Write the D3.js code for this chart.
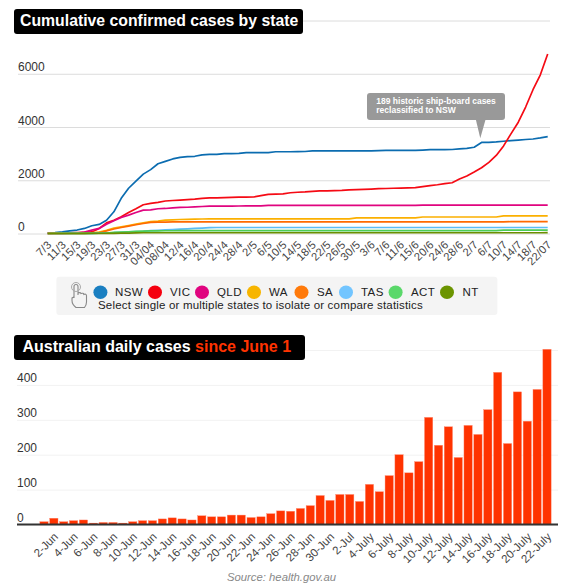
<!DOCTYPE html>
<html>
<head>
<meta charset="utf-8">
<script src="https://cdn.jsdelivr.net/npm/d3@7/dist/d3.min.js"></script>
<style>
html,body{margin:0;padding:0;background:#fff;overflow:hidden}
svg{display:block;font-family:"Liberation Sans",Arial,sans-serif}
</style>
</head>
<body>
<svg id="chart" width="568" height="588"></svg>
<script>
// ---- cumulative chart data (tick label every second point)
const cumTickLabels = ["7/3","11/3","15/3","19/3","23/3","27/3","31/3","04/04","08/04","12/4","16/4","20/4","24/4","28/4","2/5","6/5","10/5","14/5","18/5","22/5","26/5","30/5","3/6","7/6","11/6","15/6","20/6","24/6","28/6","2/7","6/7","10/7","14/7","18/7","22/07"];
const stateNames = ["NSW","VIC","QLD","WA","SA","TAS","ACT","NT"];
const legendColors = ["#1a7fc1","#f5000f","#e0047f","#f7b500","#ff7a0a","#72c5ff","#5ad86a","#6b9400"];
const lineColors = ["#0b6cb0","#f50a14","#e0047f","#fbb000","#ff6a00","#5bbcf5","#4ccc55","#6b8e00"];
const nsw = [20,30,60,100,130,190,290,340,500,815,1320,1700,1970,2230,2400,2620,2710,2800,2860,2885,2900,2950,2975,2975,3000,3000,3010,3035,3035,3035,3040,3070,3070,3070,3075,3080,3100,3100,3100,3100,3100,3100,3100,3100,3100,3110,3125,3125,3125,3125,3125,3135,3150,3150,3150,3155,3175,3195,3240,3420,3425,3440,3465,3490,3510,3530,3550,3590,3640];
const vic = [5,10,15,20,30,45,60,190,400,500,630,790,930,1080,1130,1170,1220,1240,1255,1270,1290,1320,1340,1340,1345,1355,1365,1365,1370,1420,1470,1480,1490,1530,1550,1560,1580,1600,1600,1610,1620,1640,1650,1660,1670,1685,1690,1700,1705,1710,1720,1760,1800,1830,1870,1905,2045,2160,2310,2470,2670,2930,3290,3740,4180,4750,5400,5960,6740];
const qld = [3,5,8,12,15,50,125,190,350,480,600,690,790,880,890,930,940,960,980,985,1000,1015,1030,1030,1030,1030,1032,1035,1035,1035,1055,1055,1055,1055,1055,1055,1055,1055,1055,1055,1055,1055,1055,1055,1055,1055,1055,1055,1055,1055,1055,1067,1067,1067,1067,1067,1067,1067,1067,1067,1067,1067,1067,1067,1067,1067,1067,1067,1067];
const wa = [1,2,3,5,6,8,20,50,120,200,250,300,350,400,450,465,500,510,525,530,540,545,550,550,550,550,550,550,550,550,550,550,550,550,550,550,550,550,550,550,550,550,590,590,590,590,590,590,590,590,590,620,620,620,620,620,620,620,620,620,620,620,660,660,660,660,660,660,660];
const sa = [1,1,2,3,4,6,15,30,100,170,225,280,330,375,415,425,430,435,440,440,440,440,440,440,440,440,440,440,440,440,440,440,440,440,440,440,440,440,440,440,440,440,440,440,440,440,440,440,440,440,440,440,440,440,440,440,440,440,440,440,440,440,440,443,443,443,443,443,443];
const tas = [0,0,1,2,3,4,7,12,22,30,45,60,70,85,110,120,135,150,165,175,190,205,220,225,225,225,225,225,225,225,225,225,225,225,225,225,225,225,225,225,225,225,225,225,225,225,225,225,225,225,225,225,225,225,225,225,225,225,225,225,225,225,225,225,225,225,225,225,225];
const act = [0,1,1,2,2,3,6,9,19,39,53,65,80,87,96,100,103,104,107,107,107,107,107,107,107,107,107,107,107,107,107,107,107,107,107,107,107,107,107,107,107,107,107,107,107,107,107,107,107,107,107,107,107,107,107,107,107,107,107,107,107,107,125,125,125,125,125,125,125];
const nt = [0,0,0,0,0,1,1,3,5,8,12,15,25,29,29,29,29,29,29,29,29,29,29,29,29,29,29,29,29,29,29,29,29,29,29,29,29,29,29,29,29,29,29,29,29,29,29,29,29,29,29,29,29,29,29,29,29,29,29,29,29,29,29,29,29,29,29,29,30];
const cumTicks = [0,2000,4000,6000,8000];
const cumLabelled = [0,2000,4000,6000];
const calloutLines = ["189 historic ship-board cases","reclassified to NSW"];

// ---- daily chart data
const dayLabels = ["1-Jun","2-Jun","3-Jun","4-Jun","5-Jun","6-Jun","7-Jun","8-Jun","9-Jun","10-Jun","11-Jun","12-Jun","13-Jun","14-Jun","15-Jun","16-Jun","17-Jun","18-Jun","19-Jun","20-Jun","21-Jun","22-Jun","23-Jun","24-Jun","25-Jun","26-Jun","27-Jun","28-Jun","29-Jun","30-Jun","1-Jul","2-Jul","3-July","4-July","5-July","6-July","7-July","8-July","9-July","10-July","11-July","12-July","13-July","14-July","15-July","16-July","17-July","18-July","19-July","20-July","21-July","22-July"];
const dailyCases = [8,18,8,11,13,4,6,6,4,8,11,11,16,19,16,13,25,22,22,27,27,20,22,31,39,38,46,54,83,69,86,86,66,115,94,140,200,148,180,307,227,280,192,284,258,329,436,232,380,296,387,502];
const dailyTicks = [0,100,200,300,400,500];
const dailyLabelled = [0,100,200,300,400];

const svg = d3.select("#chart");
const textColor = "#333";

// ---- chart 1 scales
const x1 = d3.scaleLinear().domain([0, nsw.length - 1]).range([47.7, 547.7]);
const y1 = d3.scaleLinear().domain([0, 8000]).range([233.5, 20.5]);

const g1 = svg.append("g");
const yAxis1 = d3.axisLeft(y1).tickValues(cumTicks).tickSize(-532)
  .tickFormat(d => cumLabelled.includes(d) ? d3.format("d")(d) : "");
const gy1 = g1.append("g").attr("transform", "translate(18,0)").call(yAxis1);
gy1.select(".domain").remove();
gy1.selectAll("line").attr("stroke", "#dcdcdc");
gy1.selectAll("text").attr("x", 0).attr("dy", -3).attr("text-anchor", "start")
  .attr("fill", textColor).style("font-size", "12px");

const xAxis1 = d3.axisBottom(x1)
  .tickValues(cumTickLabels.map((d, i) => i * 2))
  .tickSize(0)
  .tickFormat(d => cumTickLabels[d / 2]);
const gx1 = g1.append("g").attr("transform", "translate(0,233.5)").call(xAxis1);
gx1.select(".domain").remove();
gx1.selectAll("text")
  .attr("text-anchor", "end").attr("y", 0).attr("dy", 0)
  .attr("transform", "translate(4,12) rotate(-45)")
  .attr("fill", "#444").style("font-size", "11.2px").style("letter-spacing", "0.2px");

const line1 = d3.line().x((d, i) => x1(i)).y(d => y1(d));
[nsw, vic, qld, wa, sa, tas, act, nt].forEach((s, i) => {
  g1.append("path").datum(s).attr("d", line1).attr("fill", "none")
    .attr("stroke", lineColors[i]).attr("stroke-width", 1.7).attr("stroke-linejoin", "round");
});

// callout
const cg = svg.append("g");
cg.append("rect").attr("x", 367).attr("y", 93).attr("width", 138).attr("height", 27).attr("rx", 3).attr("fill", "#999");
cg.append("path").attr("d", d3.line()([[475.7, 119], [485.7, 119], [480.3, 138.3]])).attr("fill", "#999");
cg.selectAll("text").data(calloutLines).enter().append("text")
  .attr("x", 376.3).attr("y", (d, i) => 104 + i * 8.8)
  .attr("fill", "#fff").style("font-size", "8.5px").style("font-weight", "bold").text(d => d);

// title 1
function titleBox(x, y, w, h) {
  svg.append("rect").attr("x", x).attr("y", y).attr("width", w).attr("height", h).attr("rx", 3).attr("fill", "#000");
}
titleBox(14, 9, 289, 25);
svg.append("text").attr("x", 20).attr("y", 25.5).attr("fill", "#fff")
  .style("font-size", "15.8px").style("font-weight", "bold").text("Cumulative confirmed cases by state");

// legend
const legendCx = [100.4,155,202,254,301.5,346,395.6,447];
const legendTx = [115,170,217,269,317,361,411,462.5];
svg.append("rect").attr("x", 56.4).attr("y", 276.7).attr("width", 441).attr("height", 38.3).attr("rx", 3).attr("fill", "#f4f4f4");
stateNames.forEach((n, i) => {
  svg.append("ellipse").attr("cx", legendCx[i]).attr("cy", 292.3).attr("rx", 7).attr("ry", 6.8).attr("fill", legendColors[i]);
  svg.append("text").attr("x", legendTx[i]).attr("y", 296.3).attr("fill", "#222")
    .style("font-size", "11.5px").style("letter-spacing", "0.4px").text(n);
});
svg.append("text").attr("x", 98).attr("y", 308.7).attr("fill", "#222")
  .style("font-size", "11.5px").style("letter-spacing", "0.18px")
  .text("Select single or multiple states to isolate or compare statistics");
// hand icon
svg.append("path")
  .attr("d", "M74 298 V286.5 a2 2 0 0 1 4 0 V295 M78 293 q2.5 -1 3 .6 q2.5 -1 2.8 .8 q2.4 -.8 2.7 1.2 V302 q0 3 -2 5.5 H76 q-4 -3 -4 -7 V298 q1 -1 2 -.5")
  .attr("fill", "none").attr("stroke", "#888").attr("stroke-width", 1.1);
svg.append("circle").attr("cx", 76).attr("cy", 287).attr("r", 4.5)
  .attr("fill", "none").attr("stroke", "#aaa").attr("stroke-width", 1);

// ---- chart 2 scales
const x2 = d3.scaleBand().domain(dayLabels).range([39.07, 551.93]).paddingInner(0.16).paddingOuter(0.08);
const y2 = d3.scaleLinear().domain([0, 500]).range([524.5, 350]);

const yAxis2 = d3.axisLeft(y2).tickValues(dailyTicks).tickSize(-541)
  .tickFormat(d => dailyLabelled.includes(d) ? d3.format("d")(d) : "");
const gy2 = svg.append("g").attr("transform", "translate(17,0)").call(yAxis2);
gy2.select(".domain").remove();
gy2.selectAll("line").attr("stroke", "#f2f2f2");
gy2.selectAll("text").attr("x", 0).attr("dy", -3).attr("text-anchor", "start")
  .attr("fill", textColor).style("font-size", "12px");

svg.append("g").selectAll("rect").data(dailyCases).enter().append("rect")
  .attr("x", (d, i) => x2(dayLabels[i]))
  .attr("y", d => y2(d))
  .attr("width", x2.bandwidth())
  .attr("height", d => y2(0) - y2(d))
  .attr("fill", "#ff3300")
  .attr("stroke", "#ff8a70").attr("stroke-width", 0.4);

const xAxis2 = d3.axisBottom(x2)
  .tickValues(dayLabels.filter((d, i) => i % 2 === 1))
  .tickSize(0);
const gx2 = svg.append("g").attr("transform", "translate(0,524.5)").call(xAxis2);
gx2.select(".domain").attr("stroke", "#333").attr("stroke-width", 2).attr("d", "M17,0H558");
gx2.selectAll("text")
  .attr("text-anchor", "end").attr("y", 0).attr("dy", 0)
  .attr("transform", "translate(5,13) rotate(-45)")
  .attr("fill", "#444").style("font-size", "11.5px");

// title 2
titleBox(14, 335, 291, 25);
const t2 = svg.append("text").attr("x", 22.5).attr("y", 352.3)
  .style("font-size", "16px").style("font-weight", "bold");
t2.append("tspan").attr("fill", "#fff").text("Australian daily cases ");
t2.append("tspan").attr("fill", "#ff3300").text("since June 1");

// source
svg.append("text").attr("x", 227).attr("y", 581).attr("fill", "#888")
  .style("font-size", "11.3px").style("font-style", "italic").text("Source: health.gov.au");
</script>
</body>
</html>
